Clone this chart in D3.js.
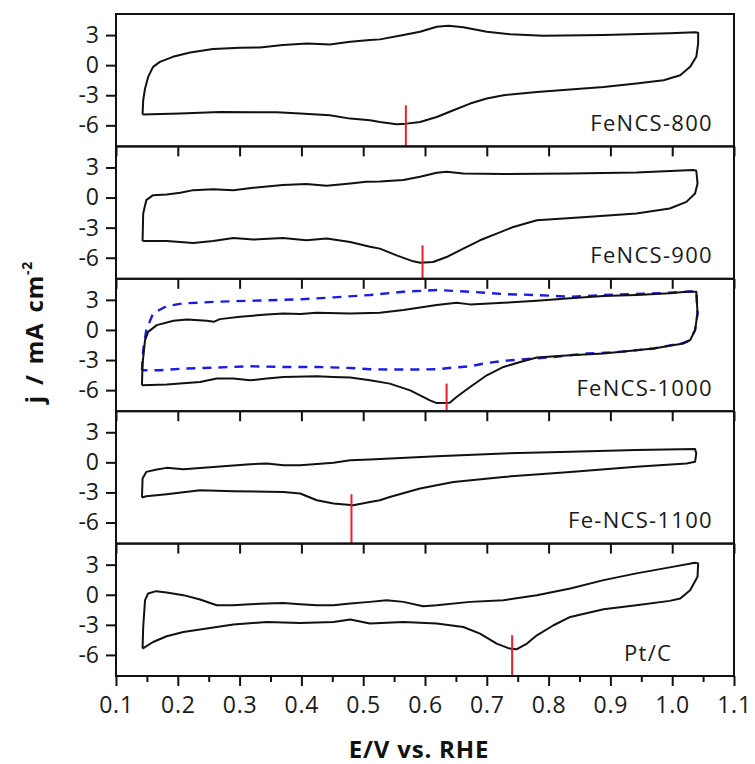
<!DOCTYPE html>
<html><head><meta charset="utf-8">
<script src="https://cdn.jsdelivr.net/npm/d3@7"></script>
<style>body{margin:0;background:#fff} text{font-family:"Open Sans",sans-serif}</style>
</head><body><svg id="c" width="755" height="764"></svg>
<script>
// ---------- data (E / V vs RHE, j / mA cm^-2) ----------
const panelLabels = ["FeNCS-800", "FeNCS-900", "FeNCS-1000", "Fe-NCS-1100", "Pt/C"];

const fe800 = [[0.143,-4.93],[0.144,-3.5],[0.147,-2.33],[0.152,-1.17],[0.160,-0.17],[0.171,0.33],[0.192,0.83],[0.220,1.27],[0.257,1.6],[0.301,1.73],[0.333,1.77],[0.370,2.0],[0.409,2.17],[0.446,2.07],[0.479,2.33],[0.511,2.5],[0.527,2.57],[0.565,3.0],[0.592,3.33],[0.619,3.83],[0.638,3.93],[0.662,3.77],[0.700,3.33],[0.738,3.07],[0.791,2.93],[0.889,3.0],[0.996,3.17],[1.037,3.27],[1.042,3.23],[1.042,2.17],[1.039,0.83],[1.029,-0.17],[1.013,-1.0],[0.986,-1.5],[0.942,-1.83],[0.889,-2.17],[0.835,-2.43],[0.781,-2.67],[0.727,-3.0],[0.700,-3.33],[0.673,-3.83],[0.646,-4.5],[0.619,-5.17],[0.592,-5.67],[0.570,-5.83],[0.554,-5.9],[0.527,-5.67],[0.511,-5.5],[0.479,-5.33],[0.446,-5.0],[0.398,-4.83],[0.360,-4.7],[0.268,-4.67],[0.204,-4.83],[0.143,-4.93]];

const fe900 = [[0.143,-4.33],[0.144,-1.59],[0.149,-0.26],[0.160,0.24],[0.182,0.31],[0.204,0.47],[0.225,0.74],[0.257,0.84],[0.290,0.74],[0.322,0.97],[0.370,1.24],[0.408,1.34],[0.441,1.17],[0.479,1.41],[0.505,1.57],[0.527,1.6],[0.565,1.74],[0.592,2.07],[0.619,2.47],[0.635,2.57],[0.662,2.41],[0.727,2.34],[0.835,2.41],[0.942,2.51],[1.034,2.74],[1.039,2.67],[1.041,1.41],[1.037,0.41],[1.023,-0.43],[0.996,-1.09],[0.942,-1.59],[0.861,-1.93],[0.781,-2.26],[0.743,-2.93],[0.716,-3.59],[0.689,-4.26],[0.662,-5.09],[0.635,-5.93],[0.613,-6.43],[0.592,-6.49],[0.581,-6.36],[0.554,-5.76],[0.527,-5.09],[0.511,-4.9],[0.479,-4.43],[0.441,-4.09],[0.408,-4.26],[0.370,-4.03],[0.322,-4.19],[0.290,-4.03],[0.257,-4.33],[0.225,-4.53],[0.182,-4.33],[0.143,-4.33]];

const fe1000 = [[0.142,-5.52],[0.143,-3.35],[0.147,-1.02],[0.152,-0.19],[0.166,0.48],[0.193,0.91],[0.215,1.05],[0.247,0.91],[0.258,0.81],[0.268,1.08],[0.301,1.31],[0.344,1.55],[0.371,1.65],[0.398,1.58],[0.425,1.71],[0.479,1.65],[0.527,1.71],[0.565,1.98],[0.619,2.48],[0.651,2.71],[0.673,2.55],[0.727,2.71],[0.781,2.91],[0.835,3.15],[0.889,3.38],[0.942,3.48],[0.996,3.65],[1.023,3.81],[1.039,3.81],[1.041,1.65],[1.037,-0.02],[1.029,-1.02],[1.018,-1.35],[0.970,-1.85],[0.889,-2.35],[0.835,-2.52],[0.781,-2.75],[0.754,-3.19],[0.727,-3.69],[0.700,-4.52],[0.673,-5.69],[0.651,-6.69],[0.640,-7.25],[0.619,-7.29],[0.608,-7.02],[0.576,-6.02],[0.543,-5.35],[0.511,-5.02],[0.479,-4.75],[0.452,-4.69],[0.425,-4.62],[0.371,-4.69],[0.344,-4.85],[0.317,-5.02],[0.290,-4.85],[0.263,-4.85],[0.236,-5.19],[0.182,-5.45],[0.142,-5.52]];

const fe1000Dashed = [[0.142,-4.02],[0.144,-2.02],[0.149,-0.02],[0.160,1.65],[0.182,2.38],[0.209,2.65],[0.263,2.81],[0.317,2.91],[0.398,3.05],[0.452,3.25],[0.511,3.48],[0.565,3.81],[0.619,3.98],[0.673,3.81],[0.727,3.58],[0.781,3.48],[0.835,3.31],[0.889,3.48],[0.942,3.58],[0.996,3.71],[1.039,3.88],[1.041,1.65],[1.037,-0.02],[1.029,-1.02],[1.018,-1.29],[0.970,-1.85],[0.916,-2.19],[0.862,-2.35],[0.808,-2.69],[0.754,-2.95],[0.727,-3.09],[0.700,-3.29],[0.673,-3.62],[0.646,-3.75],[0.619,-3.92],[0.565,-3.95],[0.511,-3.92],[0.479,-3.79],[0.425,-3.69],[0.371,-3.69],[0.317,-3.62],[0.263,-3.75],[0.209,-3.85],[0.171,-4.02],[0.142,-4.02]];

const fe1100 = [[0.142,-3.51],[0.143,-1.61],[0.149,-0.95],[0.166,-0.71],[0.182,-0.55],[0.209,-0.68],[0.263,-0.45],[0.317,-0.18],[0.344,-0.11],[0.371,-0.28],[0.398,-0.28],[0.452,-0.05],[0.479,0.22],[0.511,0.29],[0.619,0.62],[0.727,0.89],[0.835,1.05],[0.942,1.22],[1.037,1.32],[1.039,0.89],[1.037,0.05],[1.023,-0.11],[0.942,-0.45],[0.835,-0.95],[0.727,-1.45],[0.646,-1.95],[0.592,-2.61],[0.543,-3.45],[0.527,-3.78],[0.511,-3.95],[0.484,-4.28],[0.452,-4.11],[0.425,-3.78],[0.398,-3.11],[0.371,-2.95],[0.290,-2.88],[0.236,-2.78],[0.182,-3.18],[0.149,-3.38],[0.142,-3.51]];

const ptc = [[0.143,-5.37],[0.144,-3.21],[0.147,-0.54],[0.152,0.13],[0.165,0.36],[0.182,0.23],[0.209,-0.04],[0.236,-0.47],[0.263,-1.04],[0.290,-1.04],[0.317,-0.94],[0.344,-0.87],[0.371,-0.81],[0.398,-0.94],[0.425,-1.04],[0.452,-1.04],[0.479,-0.87],[0.511,-0.71],[0.538,-0.54],[0.565,-0.71],[0.597,-1.14],[0.619,-1.04],[0.673,-0.71],[0.727,-0.54],[0.781,-0.04],[0.835,0.63],[0.889,1.46],[0.942,2.13],[0.996,2.73],[1.037,3.19],[1.042,3.13],[1.041,1.79],[1.029,0.46],[1.013,-0.37],[0.996,-0.61],[0.942,-1.04],[0.889,-1.44],[0.835,-2.21],[0.808,-3.04],[0.781,-4.04],[0.765,-4.87],[0.748,-5.44],[0.737,-5.37],[0.716,-4.87],[0.689,-3.87],[0.662,-3.21],[0.619,-2.87],[0.565,-2.71],[0.511,-2.87],[0.479,-2.47],[0.452,-2.71],[0.398,-2.81],[0.344,-2.71],[0.290,-2.97],[0.263,-3.21],[0.236,-3.47],[0.209,-3.71],[0.182,-4.14],[0.160,-4.71],[0.143,-5.37]];

const peakE = [0.569, 0.596, 0.635, 0.481, 0.741];
const peakTopJ = [-4.0, -4.76, -5.35, -3.18, -4.04];

const xTickValues = [0.1,0.2,0.3,0.4,0.5,0.6,0.7,0.8,0.9,1.0,1.1];
const xMinorValues = [0.15,0.25,0.35,0.45,0.55,0.65,0.75,0.85,0.95,1.05];
const yTickValues = [3, 0, -3, -6];

(function () {
  const curves = [fe800, fe900, fe1000, fe1100, ptc];
  const mLeft = 116, mRight = 734, mTop = 14, mBottom = 676;
  const nP = 5, pH = (mBottom - mTop) / nP;
  const svg = d3.select("#c");

  const x = d3.scaleLinear().domain([0.1, 1.1]).range([mLeft, mRight]);
  const yDomain = [-8.1, 5.1];

  curves.forEach((data, i) => {
    const pTop = mTop + i * pH;
    const y = d3.scaleLinear().domain(yDomain).range([pTop + pH, pTop]);
    const g = svg.append("g");
    const line = d3.line().x(d => x(d[0])).y(d => y(d[1]));

    const ya = g.append("g").attr("transform", `translate(${mLeft},0)`)
      .call(d3.axisLeft(y).tickValues(yTickValues).tickSize(10).tickPadding(7));
    ya.select(".domain").remove();
    ya.selectAll("line").attr("stroke", "#111").attr("stroke-width", 2);
    ya.selectAll("text").attr("font-size", 23).attr("fill", "#1a1a1a")
      .attr("font-family", "Open Sans, sans-serif").text(d => d < 0 ? "-" + Math.abs(d) : d);

    if (i > 0) {
      const xa = g.append("g").attr("transform", `translate(0,${pTop})`)
        .call(d3.axisTop(x).tickValues(xTickValues).tickSize(-10).tickFormat(""));
      xa.select(".domain").remove();
      xa.selectAll("line").attr("stroke", "#111").attr("stroke-width", 2);
    }

    if (i === 2) {
      g.append("path").datum(fe1000Dashed).attr("d", line)
        .attr("fill", "none").attr("stroke", "#1c1ce0").attr("stroke-width", 2.4)
        .attr("stroke-dasharray", "9,7");
    }
    g.append("path").datum(data).attr("d", line)
      .attr("fill", "none").attr("stroke", "#111").attr("stroke-width", 2)
      .attr("stroke-linejoin", "round");

    g.append("line")
      .attr("x1", x(peakE[i])).attr("x2", x(peakE[i]))
      .attr("y1", y(peakTopJ[i])).attr("y2", y(yDomain[0]))
      .attr("stroke", "#e8202a").attr("stroke-width", 2);

    g.append("rect").attr("x", mLeft).attr("y", pTop).attr("width", mRight - mLeft).attr("height", pH)
      .attr("fill", "none").attr("stroke", "#111").attr("stroke-width", 2);

    const labelE = i === 4 ? 1.0 : 1.066;
    g.append("text").attr("x", x(labelE)).attr("y", pTop + 117)
      .attr("text-anchor", "end").attr("font-size", 22).attr("letter-spacing", 1.3)
      .attr("fill", "#1a1a1a").text(panelLabels[i]);
  });

  const xb = svg.append("g").attr("transform", `translate(0,${mBottom})`)
    .call(d3.axisBottom(x).tickValues(xTickValues).tickSize(10).tickFormat(d3.format(".1f")));
  xb.select(".domain").remove();
  xb.selectAll("line").attr("stroke", "#111").attr("stroke-width", 2);
  xb.selectAll("text").attr("font-size", 23).attr("fill", "#1a1a1a").attr("y", 37).attr("dy", 0)
    .attr("font-family", "Open Sans, sans-serif").attr("letter-spacing", 0.8);
  const xm = svg.append("g").attr("transform", `translate(0,${mBottom})`)
    .call(d3.axisBottom(x).tickValues(xMinorValues).tickSize(6).tickFormat(""));
  xm.select(".domain").remove();
  xm.selectAll("line").attr("stroke", "#111").attr("stroke-width", 2);

  svg.append("text").attr("x", 419).attr("y", 758).attr("text-anchor", "middle")
    .attr("font-size", 24).attr("font-weight", "bold").attr("letter-spacing", 0.8).attr("fill", "#111")
    .text("E/V vs. RHE");

  const yl = svg.append("text").attr("transform", "translate(43,332) rotate(-90)")
    .attr("text-anchor", "middle").attr("font-size", 24).attr("font-weight", "bold")
    .attr("letter-spacing", 0.8).attr("word-spacing", 3).attr("fill", "#111");
  yl.append("tspan").text("j / mA cm");
  yl.append("tspan").attr("font-size", 14).attr("dy", -11).text("-2");
})();
</script></body></html>
